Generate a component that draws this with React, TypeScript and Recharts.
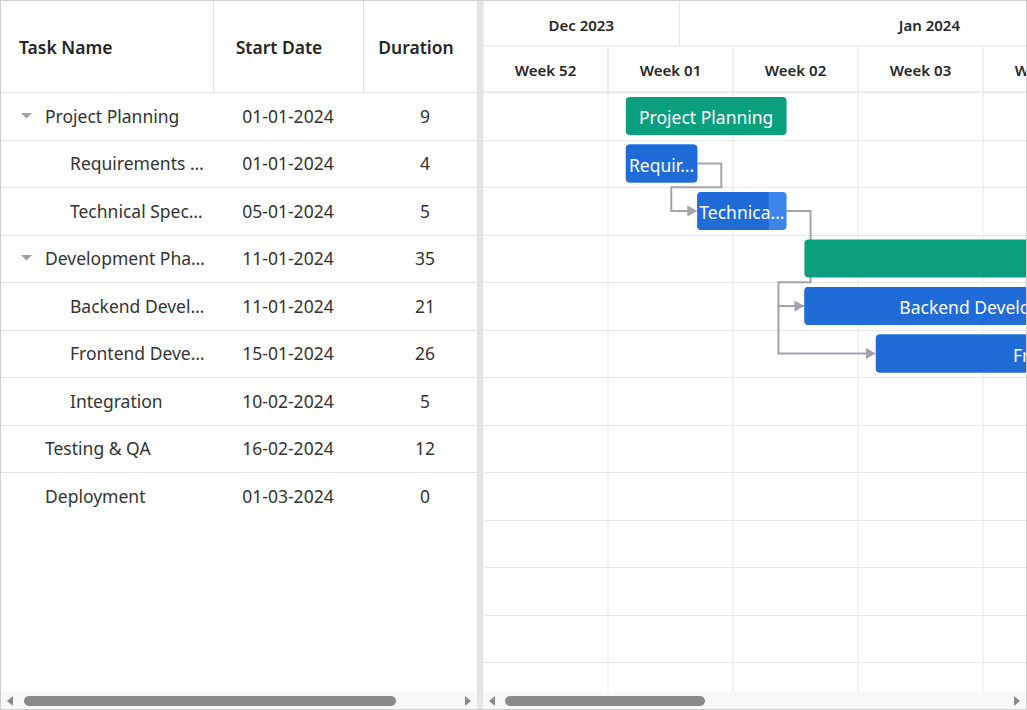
import React from 'react';
import { BarChart, Bar, XAxis, YAxis, CartesianGrid } from 'recharts';

// ---------------- data ----------------
const TIMELINE_START = '24-12-2023';
const taskNames = [
  'Project Planning',
  'Requirements Gathering',
  'Technical Specification',
  'Development Phase',
  'Backend Development',
  'Frontend Development',
  'Integration',
  'Testing & QA',
  'Deployment',
];
const taskStartDates = [
  '01-01-2024', '01-01-2024', '05-01-2024', '11-01-2024', '11-01-2024',
  '15-01-2024', '10-02-2024', '16-02-2024', '01-03-2024',
];
const taskDurations = [9, 4, 5, 35, 21, 26, 5, 12, 0];
const taskLevels = [0, 1, 1, 0, 1, 1, 1, 0, 0];
const taskIsParent = [true, false, false, true, false, false, false, false, false];
const taskProgress = [0, 100, 80, 0, 60, 40, 0, 0, 0];
const dependencyFrom = [1, 2, 4];
const dependencyTo = [2, 4, 5];
const dependencyType = ['FS', 'FS', 'SS'];

const weekTickLabels = ['Week 52', 'Week 01', 'Week 02', 'Week 03', 'Week 04', 'Week 05', 'Week 06', 'Week 07', 'Week 08', 'Week 09'];
const weekTickStarts = ['24-12-2023', '31-12-2023', '07-01-2024', '14-01-2024', '21-01-2024', '28-01-2024', '04-02-2024', '11-02-2024', '18-02-2024', '25-02-2024'];
const monthTickLabels = ['Dec 2023', 'Jan 2024', 'Feb 2024'];
const monthCellStarts = ['24-12-2023', '04-01-2024', '01-02-2024'];
const monthCellEnds = ['04-01-2024', '01-02-2024', '01-03-2024'];
const EMPTY_ROWS = 5;
const DOMAIN_DAYS = 70;

// ---------------- layout / style ----------------
const FONT = "'Noto Sans', 'Open Sans', sans-serif";
const ROW_H = 47.5;
const HEADER_BOTTOM = 92;
const LEFT_W = 477;
const SPLIT_W = 6;
const CHART_LEFT = LEFT_W + SPLIT_W;
const VIEW_W = 1026 - CHART_LEFT;
const CHART_W = 1250;
const MONTH_TIER_H = 45;
const WEEK_TIER_H = 46;
const N_ROWS = taskNames.length + EMPTY_ROWS;
const CHART_H = MONTH_TIER_H + WEEK_TIER_H + N_ROWS * ROW_H;
const PX_PER_DAY = CHART_W / DOMAIN_DAYS;
const BAR_H = 38;
const GREEN = '#0aa07f';
const BLUE = '#1f6bd8';
const BLUE_LIGHT = '#3c85ea';
const LINK = '#a3a3ac';
const TEXT = '#333333';
const HEAD_TEXT = '#262626';
const LINE = '#e3e3e3';
const WEEK_AXIS = 'a_week';
const MONTH_AXIS = 'b_month';
const GRID_FONT_SIZE = 17.5;

function dayOffset(d: string) {
  const [dd, mm, yy] = d.split('-').map(Number);
  const [d0, m0, y0] = TIMELINE_START.split('-').map(Number);
  return Math.round((Date.UTC(yy, mm - 1, dd) - Date.UTC(y0, m0 - 1, d0)) / 86400000);
}

const weekTicks = weekTickStarts.map(dayOffset);
const monthTicks = monthCellStarts.map(dayOffset);
const rowTicks = Array.from({ length: N_ROWS + 1 }, (_, k) => k);

const chartRows = [
  ...taskNames.map((name, i) => {
    const s = dayOffset(taskStartDates[i]);
    return { id: 'task' + i, idx: i, name, range: [s, s + taskDurations[i]] };
  }),
  ...Array.from({ length: EMPTY_ROWS }, (_, k) => ({ id: 'empty' + k, idx: -1, name: '', range: null as any })),
];

let ctx: CanvasRenderingContext2D | null = null;
function textWidth(s: string, font: string) {
  if (!ctx) ctx = document.createElement('canvas').getContext('2d');
  if (!ctx) return s.length * 9;
  ctx.font = font;
  return ctx.measureText(s).width;
}
function fitText(s: string, maxW: number, font: string, ell = '...', trim = true) {
  if (textWidth(s, font) <= maxW) return s;
  for (let n = s.length - 1; n > 0; n--) {
    const base = s.slice(0, n);
    const t = (trim ? base.trimEnd() : base) + ell;
    if (textWidth(t, font) <= maxW) return t;
  }
  return '';
}

function roundedPath(x: number, y: number, w: number, h: number, r: number, left: boolean, right: boolean) {
  const rl = left ? r : 0;
  const rr = right ? r : 0;
  return `M${x + rl},${y} H${x + w - rr} ${rr ? `A${rr},${rr} 0 0 1 ${x + w},${y + rr}` : ''} V${y + h - rr} ${rr ? `A${rr},${rr} 0 0 1 ${x + w - rr},${y + h}` : ''} H${x + rl} ${rl ? `A${rl},${rl} 0 0 1 ${x},${y + h - rl}` : ''} V${y + rl} ${rl ? `A${rl},${rl} 0 0 1 ${x + rl},${y}` : ''} Z`;
}

const BAR_FONT_SIZE = 17.5;
const BAR_FONT = `${BAR_FONT_SIZE}px ${FONT}`;
const GRID_FONT = `${GRID_FONT_SIZE}px ${FONT}`;

function TaskBar(props: any) {
  const { x, y, width, height, payload } = props;
  if (!payload || payload.idx == null || payload.idx < 0) return null;
  const i = payload.idx;
  const plotW = props.background && props.background.width ? props.background.width : CHART_W;
  const pxPerDay = plotW / DOMAIN_DAYS;
  const cy = y + height / 2;
  const myStart = payload.range[0];

  const links: React.ReactNode[] = [];
  dependencyFrom.forEach((from, k) => {
    if (from !== i) return;
    const j = dependencyTo[k];
    const succStart = dayOffset(taskStartDates[j]);
    const xs = x + (succStart - myStart) * pxPerDay;
    const ys = cy + (j - i) * ROW_H;
    let d: string;
    if (dependencyType[k] === 'SS') {
      d = `M${x},${cy} H${x - 26} V${ys} H${xs - 9}`;
    } else {
      const x1 = x + width;
      const yb = ys - ROW_H / 2;
      d = `M${x1},${cy} H${x1 + 24} V${yb} H${xs - 26} V${ys} H${xs - 9}`;
    }
    links.push(
      <g key={'l' + k}>
        <path d={d} fill="none" stroke={LINK} strokeWidth={2} />
        <polygon points={`${xs - 10},${ys - 5.5} ${xs},${ys} ${xs - 10},${ys + 5.5}`} fill={LINK} />
      </g>
    );
  });

  let body: React.ReactNode;
  if (taskDurations[i] === 0) {
    const s = height * 0.4;
    body = <polygon points={`${x},${cy - s} ${x + s},${cy} ${x},${cy + s} ${x - s},${cy}`} fill={BLUE} />;
  } else if (taskIsParent[i]) {
    body = <path d={roundedPath(x, y, width, height, 4, true, true)} fill={GREEN} />;
  } else {
    const p = taskProgress[i] / 100;
    const pw = width * p;
    body = (
      <g>
        <path d={roundedPath(x, y, width, height, 4, true, true)} fill={BLUE_LIGHT} />
        {pw > 0 && <path d={roundedPath(x, y, pw, height, 4, true, p >= 1)} fill={BLUE} />}
      </g>
    );
  }

  const label = taskDurations[i] === 0 ? '' : fitText(taskNames[i], width - 2, BAR_FONT);
  return (
    <g>
      {links}
      {body}
      {label && (
        <text x={x + width / 2} y={cy + 1} textAnchor="middle" dominantBaseline="central" fill="#ffffff"
          style={{ fontFamily: FONT, fontSize: BAR_FONT_SIZE }}>
          {label}
        </text>
      )}
    </g>
  );
}

function WeekTick(props: any) {
  const v = props.payload ? props.payload.value : 0;
  const k = weekTicks.indexOf(v);
  if (k < 0) return null;
  return (
    <text x={props.x + 3.5 * PX_PER_DAY} y={MONTH_TIER_H + WEEK_TIER_H / 2 + 1} textAnchor="middle" dominantBaseline="central"
      fill={HEAD_TEXT} style={{ fontFamily: FONT, fontSize: 15, fontWeight: 600 }}>
      {weekTickLabels[k]}
    </text>
  );
}

function MonthTick(props: any) {
  const v = props.payload ? props.payload.value : 0;
  const k = monthTicks.indexOf(v);
  if (k < 0) return null;
  const half = (dayOffset(monthCellEnds[k]) - dayOffset(monthCellStarts[k])) / 2;
  return (
    <text x={props.x + half * PX_PER_DAY} y={MONTH_TIER_H / 2 + 1} textAnchor="middle" dominantBaseline="central"
      fill={HEAD_TEXT} style={{ fontFamily: FONT, fontSize: 15, fontWeight: 600 }}>
      {monthTickLabels[k]}
    </text>
  );
}

function rowLines(args: any) {
  const off = args && args.offset ? args.offset : { top: MONTH_TIER_H + WEEK_TIER_H, height: N_ROWS * ROW_H };
  const step = off.height / N_ROWS;
  return rowTicks.map((k) => Math.round(off.top + k * step) + 0.5);
}

function GanttChart() {
  return (
    <BarChart width={CHART_W} height={CHART_H} data={chartRows} layout="vertical"
      margin={{ top: 0, right: 0, bottom: 0, left: 0 }} barSize={BAR_H}>
      <CartesianGrid xAxisId={WEEK_AXIS} yAxisId="rows" stroke="#e8e8e8" strokeWidth={1}
        horizontalCoordinatesGenerator={rowLines} />
      <XAxis xAxisId={WEEK_AXIS} type="number" domain={[0, DOMAIN_DAYS]} allowDataOverflow ticks={weekTicks}
        orientation="top" height={WEEK_TIER_H} tickSize={WEEK_TIER_H} interval={0}
        tickLine={{ stroke: LINE }} axisLine={{ stroke: LINE }} tick={<WeekTick />} />
      <XAxis xAxisId={MONTH_AXIS} type="number" domain={[0, DOMAIN_DAYS]} allowDataOverflow ticks={monthTicks}
        orientation="top" height={MONTH_TIER_H} tickSize={MONTH_TIER_H} interval={0}
        tickLine={{ stroke: LINE }} axisLine={{ stroke: LINE }} tick={<MonthTick />} />
      <YAxis yAxisId="cat" type="category" dataKey="id" hide />
      <YAxis yAxisId="rows" type="number" domain={[0, N_ROWS]} ticks={rowTicks} allowDataOverflow hide />
      <Bar xAxisId={WEEK_AXIS} yAxisId="cat" dataKey="range" isAnimationActive={false} shape={<TaskBar />} />
    </BarChart>
  );
}

function TreeArrow({ cy }: { cy: number }) {
  return (
    <svg style={{ position: 'absolute', left: 20, top: cy - 4, width: 13, height: 8 }} width={13} height={8}>
      <polygon points="1,1 12,1 6.5,6.5" fill="#a0a0a0" />
    </svg>
  );
}

function LeftGrid() {
  const cells: React.ReactNode[] = [];
  taskNames.forEach((name, i) => {
    const top = HEADER_BOTTOM + i * ROW_H;
    const cy = top + ROW_H / 2;
    const common: React.CSSProperties = {
      position: 'absolute', top, height: ROW_H, display: 'flex', alignItems: 'center',
      fontSize: GRID_FONT_SIZE, color: TEXT, whiteSpace: 'nowrap',
    };
    const nameLeft = 45 + taskLevels[i] * 25;
    const nameW = 205 - nameLeft;
    if (taskIsParent[i]) cells.push(<TreeArrow key={'a' + i} cy={cy} />);
    cells.push(
      <div key={'n' + i} style={{ ...common, left: nameLeft, width: nameW, overflow: 'hidden' }}>
        {fitText(name, nameW, GRID_FONT, '…', false)}
      </div>
    );
    cells.push(
      <div key={'d' + i} style={{ ...common, left: 213, width: 150, justifyContent: 'center' }}>{taskStartDates[i]}</div>
    );
    cells.push(
      <div key={'u' + i} style={{ ...common, left: 363, width: 124, justifyContent: 'center' }}>{taskDurations[i]}</div>
    );
    if (i < taskNames.length - 1) {
      cells.push(<div key={'l' + i} style={{ position: 'absolute', left: 0, width: LEFT_W, top: Math.round(top + ROW_H), height: 1, background: LINE }} />);
    }
  });
  const head: React.CSSProperties = {
    position: 'absolute', top: 1, height: 91, display: 'flex', alignItems: 'center',
    fontSize: 17.5, fontWeight: 600, color: HEAD_TEXT, whiteSpace: 'nowrap',
  };
  return (
    <div style={{ position: 'absolute', left: 0, top: 0, width: LEFT_W, height: 692, overflow: 'hidden', background: '#fff' }}>
      <div style={{ ...head, left: 19 }}>Task Name</div>
      <div style={{ ...head, left: 204, width: 150, justifyContent: 'center' }}>Start Date</div>
      <div style={{ ...head, left: 354, width: 124, justifyContent: 'center' }}>Duration</div>
      <div style={{ position: 'absolute', left: 213, top: 1, width: 1, height: 91, background: LINE }} />
      <div style={{ position: 'absolute', left: 363, top: 1, width: 1, height: 91, background: LINE }} />
      <div style={{ position: 'absolute', left: 0, top: HEADER_BOTTOM, width: LEFT_W, height: 1, background: LINE }} />
      {cells}
    </div>
  );
}

function ScrollBar({ left, width, thumbL, thumbR }: { left: number; width: number; thumbL: number; thumbR: number }) {
  return (
    <svg style={{ position: 'absolute', left, top: 692, width, height: 17 }} width={width} height={17}>
      <rect x={0} y={0} width={width} height={17} fill="#f8f8f8" />
      <polygon points={`6,9 12,4 12,14`} fill="#8a8a8a" />
      <polygon points={`${width - 6},9 ${width - 12},4 ${width - 12},14`} fill="#8a8a8a" />
      <rect x={thumbL - left} y={4} width={thumbR - thumbL} height={10} rx={5} fill="#8a8a8a" />
    </svg>
  );
}

export default function App() {
  return (
    <div style={{ position: 'absolute', left: 0, top: 0, width: 1027, height: 710, overflow: 'hidden', background: '#fff', fontFamily: FONT }}>
      <LeftGrid />
      <div style={{ position: 'absolute', left: LEFT_W, top: 0, width: SPLIT_W, height: 710, background: '#e4e4e4' }} />
      <div style={{ position: 'absolute', left: CHART_LEFT, top: 1, width: VIEW_W, height: 691, overflow: 'hidden' }}>
        <GanttChart />
      </div>
      <ScrollBar left={1} width={LEFT_W - 1} thumbL={24} thumbR={396} />
      <ScrollBar left={CHART_LEFT} width={VIEW_W} thumbL={505} thumbR={705} />
      <div style={{ position: 'absolute', left: 0, top: 0, width: 1027, height: 710, boxSizing: 'border-box', border: '1px solid #d0d0d0', pointerEvents: 'none' }} />
    </div>
  );
}
